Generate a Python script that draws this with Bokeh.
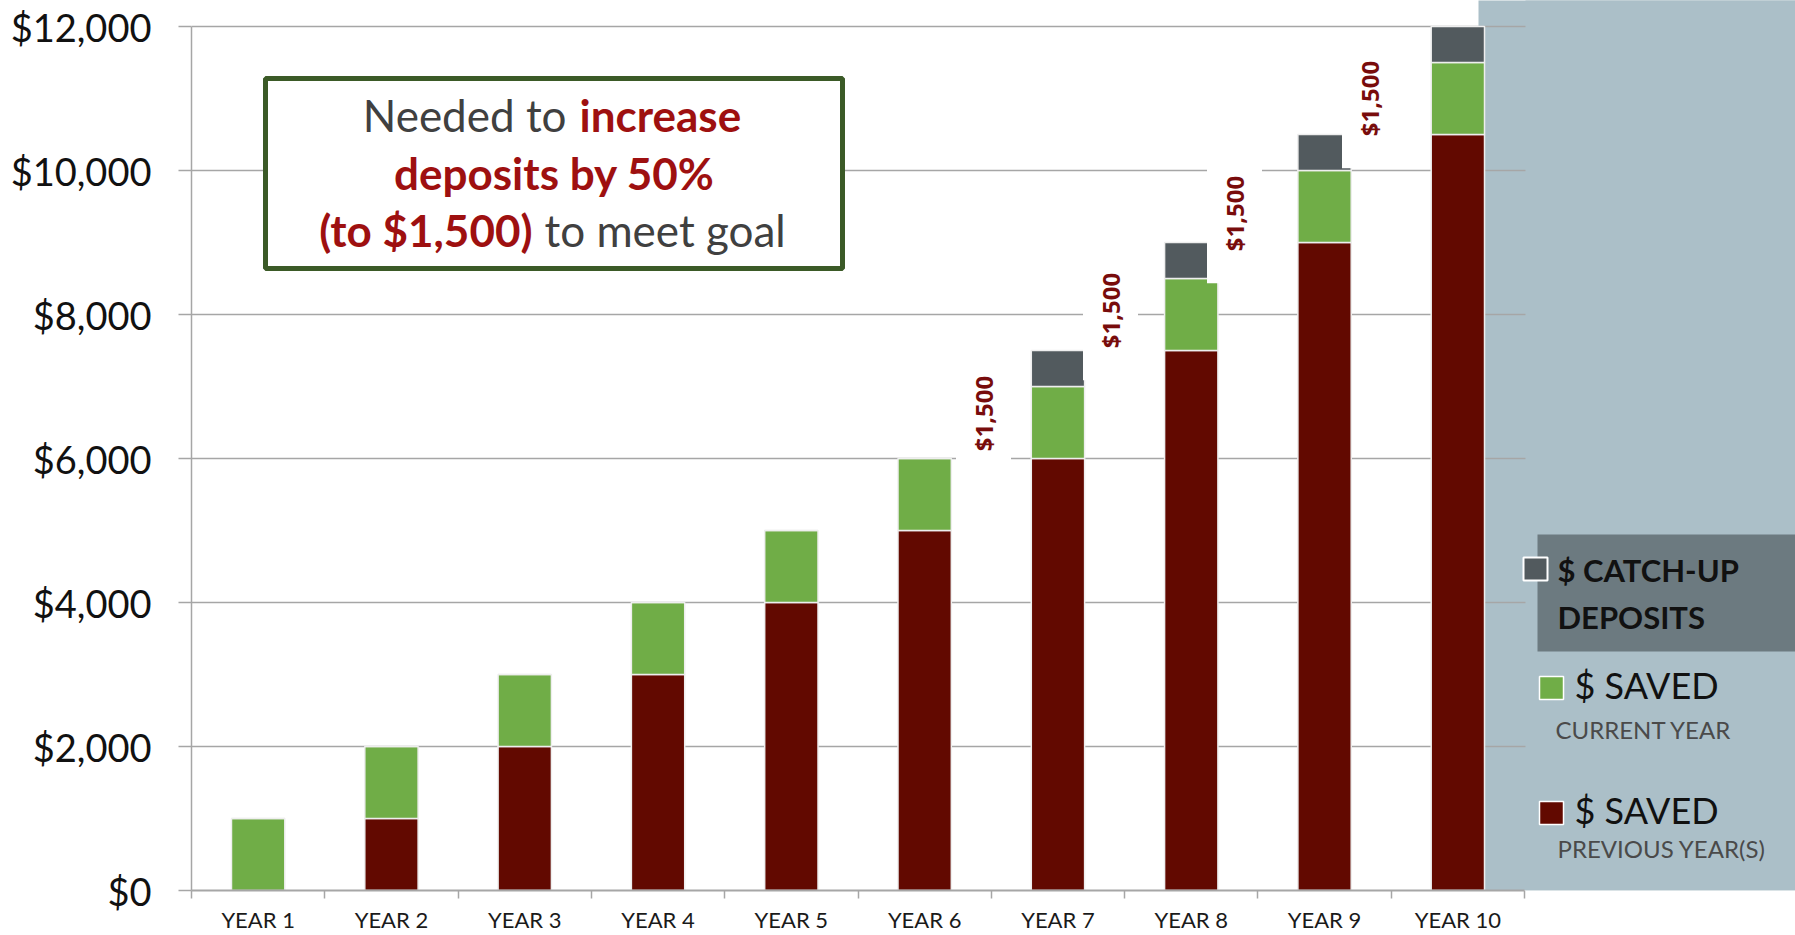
import math
from bokeh.plotting import figure
from bokeh.models import (ColumnDataSource, Range1d, FixedTicker, NumeralTickFormatter,
                          BoxAnnotation, Label)
from bokeh.core.properties import value
from bokeh.embed import file_html
from bokeh.resources import INLINE

# ---------------- data ----------------
years = ["YEAR 1", "YEAR 2", "YEAR 3", "YEAR 4", "YEAR 5",
         "YEAR 6", "YEAR 7", "YEAR 8", "YEAR 9", "YEAR 10"]
saved_previous = [0, 1000, 2000, 3000, 4000, 5000, 6000, 7500, 9000, 10500]
saved_current = [1000, 1000, 1000, 1000, 1000, 1000, 1000, 1000, 1000, 1000]
catch_up = [0, 0, 0, 0, 0, 0, 500, 500, 500, 500]
y_ticks = [0, 2000, 4000, 6000, 8000, 10000, 12000]
deposit_labels = ["$1,500", "$1,500", "$1,500", "$1,500"]

C_PREV = "#620900"
C_CUR = "#70ad47"
C_CATCH = "#525a5e"
C_PANEL = "#abbfc8"
C_LEGBOX = "#6c7a80"
C_LABEL = "#780c0c"
C_RED = "#9e1010"
C_GRAYTXT = "#404040"
C_GRID = "#a6a6a6"

W, H = 1795, 935
AX_L, AX_R = 191, 1524      # pixel extent of the 10 categories
Y0, Y12 = 890, 26           # pixel of $0 and $12,000
PX_PER_CAT = (AX_R - AX_L) / 10.0
VAL_PER_PX = 12000.0 / (Y0 - Y12)


def xd(px):
    return (px - AX_L) / PX_PER_CAT


def yd(py):
    return (Y0 - py) * VAL_PER_PX


p = figure(width=W, height=H,
           x_range=Range1d(0, xd(W)), y_range=Range1d(0, yd(0)),
           output_backend="svg", toolbar_location=None,
           min_border_left=AX_L, min_border_right=0,
           min_border_top=0, min_border_bottom=H - Y0)
p.outline_line_color = None
p.background_fill_color = "white"
p.border_fill_color = "white"

# right-hand panel: part under the grid, part that hides the grid beyond the axis
p.add_layout(BoxAnnotation(left=xd(1478), right=xd(W + 50), top=yd(-20), bottom=0,
                           fill_color=C_PANEL, fill_alpha=1.0, line_color=None,
                           level="image"))
p.add_layout(BoxAnnotation(left=xd(AX_R + 1), right=xd(W + 50), top=yd(-20), bottom=0,
                           fill_color=C_PANEL, fill_alpha=1.0, line_color=None,
                           level="underlay"))

xpos = [i + 0.5 for i in range(len(years))]
src = ColumnDataSource(dict(x=xpos, prev=saved_previous, cur=saved_current, catch=catch_up))
p.vbar_stack(["prev", "cur", "catch"], x="x", width=0.4, source=src,
             fill_color=[C_PREV, C_CUR, C_CATCH], line_color="#eeeeee", line_width=1.5)

# grid
p.xgrid.visible = False
p.ygrid.ticker = FixedTicker(ticks=y_ticks)
p.ygrid.grid_line_color = C_GRID
p.ygrid.grid_line_width = 1.5

# y axis
ya = p.yaxis[0]
ya.bounds = (0, 12000)
ya.ticker = FixedTicker(ticks=y_ticks)
ya.formatter = NumeralTickFormatter(format="$0,0")
ya.major_label_text_font = "Lato"
ya.major_label_text_font_size = "38px"
ya.major_label_text_color = "#111111"
ya.major_tick_out = 13
ya.major_tick_in = 0
ya.major_tick_line_color = C_GRID
ya.major_tick_line_width = 1.5
ya.minor_tick_line_color = None
ya.axis_line_color = C_GRID
ya.axis_line_width = 1.5
ya.major_label_standoff = 27

# x axis
xa = p.xaxis[0]
xa.bounds = (0, 10)
xa.ticker = FixedTicker(ticks=xpos, minor_ticks=list(range(len(years) + 1)))
xa.major_label_overrides = {x: y for x, y in zip(xpos, years)}
xa.major_label_text_font = "Lato"
xa.major_label_text_font_size = "22px"
xa.major_label_text_color = "#1a1a1a"
xa.major_tick_out = 0
xa.major_tick_in = 0
xa.major_tick_line_color = None
xa.minor_tick_out = 8
xa.minor_tick_in = 0
xa.minor_tick_line_color = C_GRID
xa.minor_tick_line_width = 1.5
xa.axis_line_color = C_GRID
xa.axis_line_width = 2
xa.major_label_standoff = 7

# rotated "$1,500" labels (their white boxes sit on top of bars/grid)
lab_src = ColumnDataSource(dict(
    x=[xd(983), xd(1110), xd(1234), xd(1369)],
    y=[yd(413), yd(310), yd(213), yd(98)],
    t=deposit_labels))
p.text(x="x", y="y", text="t", source=lab_src, angle=math.pi / 2,
       text_font=value("Open Sans"), text_font_style="bold", text_font_size="24px",
       text_color=C_LABEL, text_align="center", text_baseline="middle",
       background_fill_color="white", padding=[32, 11])

# annotation box
p.add_layout(BoxAnnotation(left=xd(265), right=xd(842), top=yd(78), bottom=yd(268),
                           fill_color="white", fill_alpha=1.0,
                           line_color="#3b5a27", line_alpha=1.0, line_width=5))


def lab(x, y, text, color, bold=False, size="44px", align="left", font="Lato"):
    p.add_layout(Label(x=x, y=y, text=text, text_color=color, text_font=font,
                       text_font_size=size, text_font_style="bold" if bold else "normal",
                       text_align=align, text_baseline="alphabetic"))


lab(xd(566), yd(114), "Needed to", C_GRAYTXT, align="right")
lab(xd(579), yd(114), "increase", C_RED, bold=True)
lab(xd(554), yd(172), "deposits by 50%", C_RED, bold=True, align="center")
lab(xd(532), yd(229), "(to $1,500)", C_RED, bold=True, align="right")
lab(xd(544), yd(229), "to meet goal", C_GRAYTXT)

# legend (custom layout)
p.add_layout(BoxAnnotation(left=xd(1537), right=xd(W + 50), top=yd(534), bottom=yd(651),
                           fill_color=C_LEGBOX, fill_alpha=1.0, line_color=None))
p.add_layout(BoxAnnotation(left=xd(1523), right=xd(1547), top=yd(557), bottom=yd(580),
                           fill_color=C_CATCH, fill_alpha=1.0, line_color="white",
                           line_alpha=1.0, line_width=2))
p.add_layout(BoxAnnotation(left=xd(1539), right=xd(1563), top=yd(676), bottom=yd(699),
                           fill_color=C_CUR, fill_alpha=1.0, line_color="white",
                           line_alpha=1.0, line_width=1.5))
p.add_layout(BoxAnnotation(left=xd(1539), right=xd(1563), top=yd(801), bottom=yd(824),
                           fill_color=C_PREV, fill_alpha=1.0, line_color="white",
                           line_alpha=1.0, line_width=1.5))

lab(xd(1557), yd(569), "$ CATCH-UP", "#111111", bold=True, size="31px")
lab(xd(1557), yd(616), "DEPOSITS", "#111111", bold=True, size="31px")
lab(xd(1574), yd(684), "$ SAVED", "#111111", size="36px")
lab(xd(1555), yd(729), "CURRENT YEAR", "#4a4a4a", size="24px")
lab(xd(1574), yd(809), "$ SAVED", "#111111", size="36px")
lab(xd(1557), yd(848), "PREVIOUS YEAR(S)", "#4a4a4a", size="24px")

open("out.html", "w").write(file_html(p, INLINE))
